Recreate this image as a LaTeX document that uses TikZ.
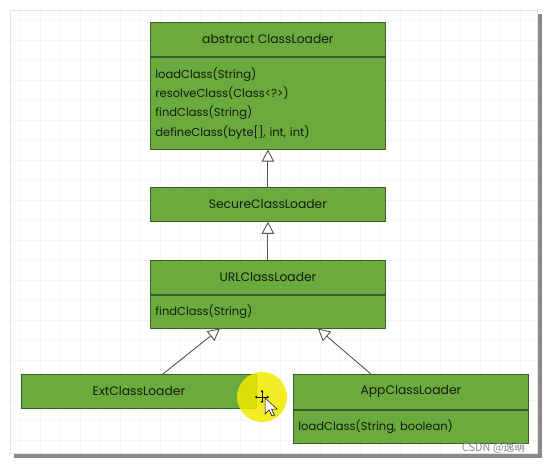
\documentclass[tikz,border=0pt]{standalone}
\usepackage{fontspec}
\setmainfont{Poppins}
\newfontfamily\cjkfont{Noto Sans CJK SC}
\usepackage{xcolor}
\usetikzlibrary{positioning, arrows.meta, calc}
\definecolor{umlGreen}{HTML}{6BAA3C}
\definecolor{umlEdge}{HTML}{3C5E28}
\definecolor{umlText}{HTML}{141C0C}
\definecolor{lineGrey}{HTML}{555555}
\definecolor{gridGrey}{HTML}{F5F5F5}
\definecolor{shadowGrey}{HTML}{8A8A8A}
\definecolor{cursorYellow}{HTML}{F2EA00}
\definecolor{markText}{HTML}{8A8A8A}

\begin{document}
\begin{tikzpicture}[x=1pt, y=-1pt,
  every node/.style={font=\fontsize{11.5}{19.3}\selectfont, text=umlText},
  headbox/.style={rectangle, draw=umlEdge, line width=0.8pt, fill=umlGreen,
              minimum width=235pt, minimum height=34pt, inner sep=0pt,
              anchor=north west, align=center, font=\fontsize{12.3}{15}\selectfont},
  bodybox/.style={rectangle, draw=umlEdge, line width=0.8pt, fill=umlGreen,
              minimum width=235pt, inner sep=0pt, anchor=north west,
              text width=225pt, align=left},
  inherit/.style={-{Triangle[open, length=12pt, width=12.5pt, fill=white]},
              draw=lineGrey, line width=0.9pt},
  mvarr/.style={black, line width=0.8pt, -{Stealth[length=2.2pt, width=3pt]}},
]
  % ═══ Screenshot frame: shadow, white panel, faint grid ═══
  \useasboundingbox (0,0) rectangle (547,466);
  \fill[white] (0,0) rectangle (547,466);
  \fill[shadowGrey] (14,14) rectangle (542,458);
  \fill[white] (10,10) rectangle (537,453);
  \draw[gridGrey, line width=0.5pt, step=20pt] (10,10) grid (537,453);
  \draw[gray!20, line width=0.4pt] (10,10) rectangle (537,453);

  % ═══ abstract ClassLoader ═══
  \node[headbox] at (150,22) (clhead) {abstract ClassLoader};
  \node[bodybox, minimum height=92pt, below=0pt of clhead.south west, anchor=north west]
        (clbody) {loadClass(String)\\resolveClass(Class<?>)\\findClass(String)\\defineClass(byte[], int, int)};

  % ═══ SecureClassLoader ═══
  \node[headbox] at (150,187) (secure) {SecureClassLoader};

  % ═══ URLClassLoader ═══
  \node[headbox] at (150,260) (urlhead) {URLClassLoader};
  \node[bodybox, minimum height=33pt, below=0pt of urlhead.south west, anchor=north west]
        (urlbody) {findClass(String)};

  % ═══ leaves ═══
  \node[headbox] at (21,374) (ext) {ExtClassLoader};
  \node[headbox, minimum height=35pt] at (293,374) (apphead) {AppClassLoader};
  \node[bodybox, minimum height=33pt, below=0pt of apphead.south west, anchor=north west]
        (appbody) {loadClass(String, boolean)};

  % Inheritance arrows
  \draw[inherit] (secure.north) -- (clbody.south);
  \draw[inherit] (urlhead.north) -- (secure.south);
  \draw[inherit] ([xshift=24pt]ext.north) -- ([xshift=-48pt]urlbody.south);
  \draw[inherit] ([xshift=-40pt]apphead.north) -- ([xshift=50pt]urlbody.south);

  % Cursor highlight over the ExtClassLoader corner
  \coordinate (cur) at (262,397);
  \fill[cursorYellow, opacity=0.85] (cur) circle (25pt);
  \draw[mvarr] (cur) -- ++(0,-7);
  \draw[mvarr] (cur) -- ++(-7,0);
  \draw[mvarr] (cur) -- ++(7,0);
  \draw[mvarr] (cur) -- ++(0,6);
  \draw[black, fill=white, line width=0.5pt]
        ($(cur)+(3,1)$) -- ++(0,16) -- ++(4,-4) -- ++(3,6) -- ++(2.5,-1)
        -- ++(-3,-6) -- ++(5.5,0) -- cycle;

  % Watermark
  \node[anchor=east, font=\cjkfont\fontsize{11}{13}\selectfont, text=markText]
        at (529,448) (mark) {CSDN @逸萌};
\end{tikzpicture}
\end{document}
